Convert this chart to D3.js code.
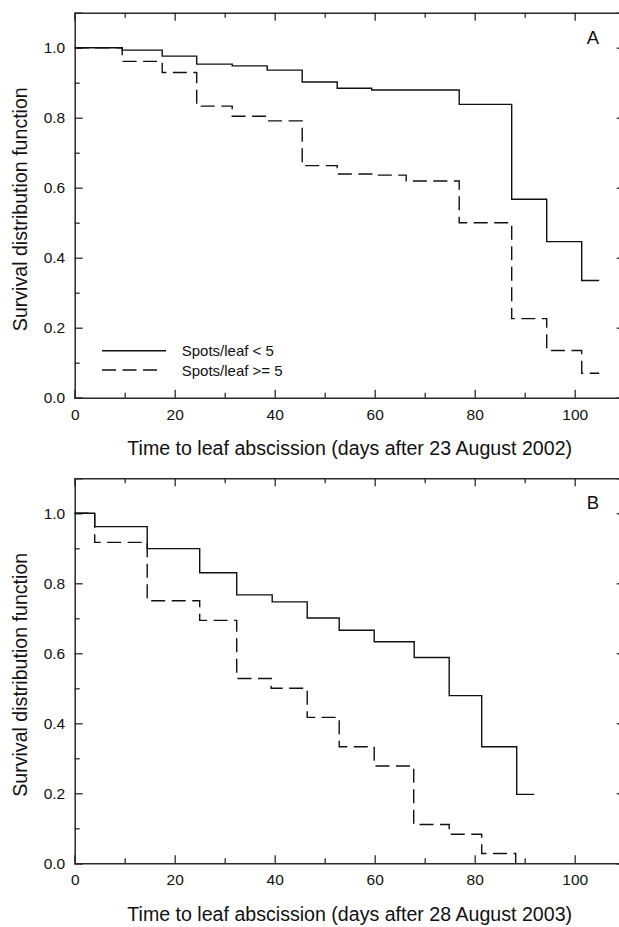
<!DOCTYPE html>
<html>
<head>
<meta charset="utf-8">
<script src="https://cdn.jsdelivr.net/npm/d3@7"></script>
<style>
  html, body { margin: 0; padding: 0; background: #fff; }
  svg { display: block; }
  text { font-family: "Liberation Sans", Arial, sans-serif; fill: #111; }
</style>
</head>
<body>
<svg id="chart" width="619" height="927"></svg>
<script>
// Kaplan–Meier survival steps: event times (days) and survival after each event
const seriesNames = ["Spots/leaf < 5", "Spots/leaf >= 5"];

// Panel A — 2002 season
const lowA_t  = [0, 9.5, 17.5, 24.4, 31.5, 38.5, 45.5, 52.5, 59.4, 76.9, 87.4, 94.4, 101.4];
const lowA_s  = [1, 0.993, 0.976, 0.953, 0.948, 0.936, 0.902, 0.884, 0.879, 0.838, 0.567, 0.446, 0.335];
const lowA_end = 104.9;
const highA_t = [0, 9.5, 17.5, 24.4, 31.5, 38.5, 45.5, 52.5, 59.4, 66.3, 76.9, 87.4, 94.4, 101.4];
const highA_s = [1, 0.961, 0.929, 0.833, 0.804, 0.791, 0.663, 0.639, 0.636, 0.619, 0.500, 0.226, 0.135, 0.070];
const highA_end = 104.9;

// Panel B — 2003 season
const lowB_t  = [0, 4.0, 14.5, 25.0, 32.4, 39.5, 46.5, 52.9, 59.9, 67.9, 74.9, 81.4, 88.4];
const lowB_s  = [1, 0.962, 0.899, 0.830, 0.767, 0.747, 0.701, 0.666, 0.633, 0.588, 0.479, 0.333, 0.197];
const lowB_end = 91.9;
const highB_t = [0, 4.0, 14.5, 25.0, 32.4, 39.3, 46.5, 52.9, 59.9, 67.8, 74.9, 81.4, 88.2];
const highB_s = [1, 0.917, 0.750, 0.694, 0.528, 0.500, 0.417, 0.333, 0.278, 0.111, 0.083, 0.028, 0];
const highB_end = 88.2;

// Axis ticks
const xMajor = [0, 20, 40, 60, 80, 100];
const xMinor = [10, 30, 50, 70, 90, 110];
const yMajor = [0, 0.2, 0.4, 0.6, 0.8, 1.0];
const yMinor = [0.1, 0.3, 0.5, 0.7, 0.9];

const panels = [
  { letter: "A", top: 12.7, title: "Time to leaf abscission (days after 23 August 2002)",
    low: [lowA_t, lowA_s, lowA_end], high: [highA_t, highA_s, highA_end], legend: true },
  { letter: "B", top: 478.3, title: "Time to leaf abscission (days after 28 August 2003)",
    low: [lowB_t, lowB_s, lowB_end], high: [highB_t, highB_s, highB_end], legend: false }
];

const svg = d3.select("#chart");
const plotLeft = 74.7, plotW = 550, plotH = 385;
const axisColor = "#2a2a2a";
const lineColor = "#111";
const dash = "14,6.5";

function stepPoints(t, s, end) {
  const pts = [];
  for (let i = 0; i < t.length; i++) {
    if (i > 0) pts.push([t[i], s[i - 1]]);
    pts.push([t[i], s[i]]);
  }
  pts.push([end, s[s.length - 1]]);
  return pts;
}

panels.forEach(p => {
  const x = d3.scaleLinear().domain([0, 110]).range([plotLeft, plotLeft + plotW]);
  const y = d3.scaleLinear().domain([0, 1.1]).range([p.top + plotH, p.top]);
  const g = svg.append("g");

  const styleAxis = sel => {
    sel.select(".domain").attr("stroke", axisColor).attr("stroke-width", 1.5);
    sel.selectAll(".tick line").attr("stroke", axisColor).attr("stroke-width", 1.3);
    sel.selectAll(".tick text").style("font-size", "15.5px").attr("fill", "#111")
      .style("font-family", '"Liberation Sans", Arial, sans-serif');
  };

  // Bottom axis with labels, inward ticks
  g.append("g").attr("transform", `translate(0,${y(0)})`)
    .call(d3.axisBottom(x).tickValues(xMajor).tickSize(-8).tickPadding(11).tickFormat(d3.format("d")))
    .call(styleAxis);
  g.append("g").attr("transform", `translate(0,${y(0)})`)
    .call(d3.axisBottom(x).tickValues(xMinor).tickSize(-5).tickFormat(""))
    .call(styleAxis).select(".domain").remove();

  // Top frame with inward ticks
  g.append("g").attr("transform", `translate(0,${y(1.1)})`)
    .call(d3.axisTop(x).tickValues(xMajor).tickSize(-8).tickFormat(""))
    .call(styleAxis);
  g.append("g").attr("transform", `translate(0,${y(1.1)})`)
    .call(d3.axisTop(x).tickValues(xMinor).tickSize(-5).tickFormat(""))
    .call(styleAxis).select(".domain").remove();

  // Left axis with labels
  g.append("g").attr("transform", `translate(${x(0)},0)`)
    .call(d3.axisLeft(y).tickValues(yMajor).tickSize(-8).tickPadding(9.5).tickFormat(d3.format(".1f")))
    .call(styleAxis);
  g.append("g").attr("transform", `translate(${x(0)},0)`)
    .call(d3.axisLeft(y).tickValues(yMinor).tickSize(-5).tickFormat(""))
    .call(styleAxis).select(".domain").remove();

  // Right frame
  g.append("g").attr("transform", `translate(${x(110)},0)`)
    .call(d3.axisRight(y).tickValues(yMajor).tickSize(-8).tickFormat(""))
    .call(styleAxis);
  g.append("g").attr("transform", `translate(${x(110)},0)`)
    .call(d3.axisRight(y).tickValues(yMinor).tickSize(-5).tickFormat(""))
    .call(styleAxis).select(".domain").remove();

  const line = d3.line().x(d => x(d[0])).y(d => y(d[1]));

  g.append("path").datum(stepPoints(...p.low))
    .attr("d", line).attr("fill", "none").attr("stroke", lineColor).attr("stroke-width", 1.4);
  g.append("path").datum(stepPoints(...p.high))
    .attr("d", line).attr("fill", "none").attr("stroke", lineColor).attr("stroke-width", 1.4)
    .attr("stroke-dasharray", dash);

  // Panel letter
  g.append("text").attr("x", 599).attr("y", p.top + 30.8)
    .attr("text-anchor", "end").style("font-size", "18.5px").text(p.letter);

  // Axis titles
  g.append("text").attr("x", plotLeft + plotW / 2).attr("y", y(0) + 57.5)
    .attr("text-anchor", "middle").style("font-size", "19.6px").text(p.title);
  g.append("text")
    .attr("transform", `translate(27,${p.top + plotH / 2 + 4}) rotate(-90)`)
    .attr("text-anchor", "middle").style("font-size", "19.6px")
    .text("Survival distribution function");

  if (p.legend) {
    const lg = g.append("g");
    const rows = [{ y: 350.7, dash: null, x2: 166 }, { y: 370, dash: dash, x2: 161 }];
    rows.forEach((r, i) => {
      lg.append("line").attr("x1", 102).attr("x2", r.x2).attr("y1", r.y).attr("y2", r.y)
        .attr("stroke", lineColor).attr("stroke-width", 1.4)
        .attr("stroke-dasharray", r.dash);
      lg.append("text").attr("x", 181.7).attr("y", r.y + 5.6)
        .style("font-size", "15px").text(seriesNames[i]);
    });
  }
});
</script>
</body>
</html>
